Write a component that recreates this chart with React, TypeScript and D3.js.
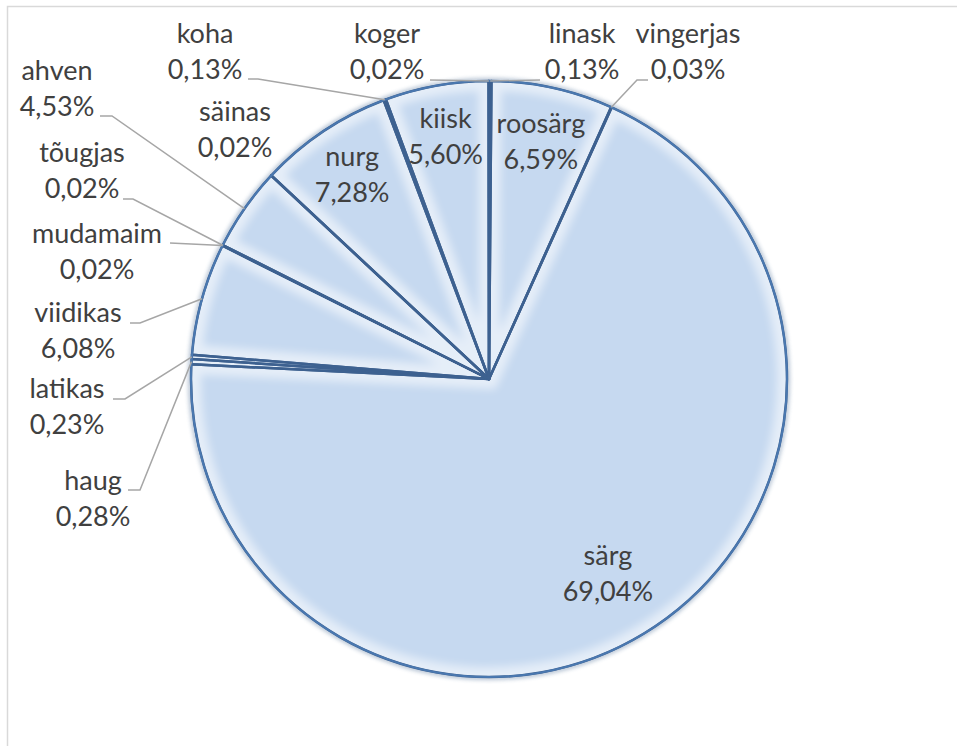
import React from "react";
import * as d3 from "d3";

// ---- data (clockwise from 12 o'clock) ----
const categories = [
  "linask", "roosärg", "vingerjas", "särg", "haug", "latikas", "viidikas",
  "mudamaim", "tõugjas", "ahven", "säinas", "nurg", "koha", "kiisk", "koger",
];
const values = [0.13, 6.59, 0.03, 69.04, 0.28, 0.23, 6.08, 0.02, 0.02, 4.53, 0.02, 7.28, 0.13, 5.6, 0.02];

// ---- layout ----
const W = 957;
const H = 746;
const CX = 489;
const CY = 379;
const R = 298;
const LINE = 36;
const FONT = 27;

type OutLayout = { tx: number; ty: number; leader: [number, number][] };
const outside: Record<string, OutLayout> = {
  linask: { tx: 582, ty: 43, leader: [[540, 80]] },
  koger: { tx: 387, ty: 43, leader: [[430, 80]] },
  koha: { tx: 205, ty: 43, leader: [[248, 79], [258, 79]] },
  ahven: { tx: 57, ty: 80, leader: [[100, 116], [112, 116]] },
  "säinas": { tx: 235, ty: 121, leader: [] },
  "tõugjas": { tx: 82, ty: 162, leader: [[123, 199], [133, 199]] },
  mudamaim: { tx: 97, ty: 243, leader: [[170, 243]] },
  viidikas: { tx: 78, ty: 322, leader: [[130, 323], [140, 323]] },
  latikas: { tx: 67, ty: 398, leader: [[113, 399], [125, 399]] },
  haug: { tx: 93, ty: 490, leader: [[128, 490], [140, 490]] },
  vingerjas: { tx: 688, ty: 43, leader: [[648, 80], [637, 80]] },
};
const insideRadius: Record<string, number> = {
  "roosärg": 243,
  "särg": 228,
  nurg: 246,
  kiisk: 246,
};

const fmt = (v: number) => d3.format(".2f")(v).replace(".", ",") + "%";

export default function App() {
  const pie = d3.pie<number>().sort(null).value((d) => d).startAngle(0).endAngle(2 * Math.PI)(values);
  const arc = d3.arc<d3.PieArcDatum<number>>().innerRadius(0).outerRadius(R);
  const pt = (a: number, r: number): [number, number] => [CX + r * Math.sin(a), CY - r * Math.cos(a)];

  return (
    <svg
      width={W}
      height={H}
      style={{ position: "absolute", left: 0, top: 0 }}
      fontFamily="Lato, 'Open Sans', sans-serif"
    >
      <defs>
        <filter id="soft" x="-20%" y="-20%" width="140%" height="140%">
          <feGaussianBlur stdDeviation="4" />
        </filter>
        <filter id="shadow" x="-20%" y="-20%" width="140%" height="140%">
          <feGaussianBlur stdDeviation="2" />
        </filter>
        {pie.map((p, i) => (
          <clipPath id={`clip${i}`} key={i}>
            <path d={arc(p) || ""} />
          </clipPath>
        ))}
      </defs>
      <rect x={0} y={0} width={W} height={H} fill="#ffffff" />
      <rect x={7.5} y={6.5} width={W + 20} height={H + 20} fill="none" stroke="#d9d9d9" strokeWidth={1.5} />

      <g transform={`translate(${CX},${CY})`}>
        <circle r={R + 1} fill="none" stroke="#385d8a" strokeWidth={3} opacity={0.5} filter="url(#shadow)" />
        {pie.map((p, i) => (
          <g key={categories[i]}>
            <path d={arc(p) || ""} fill="#c6d9f0" />
            <g clipPath={`url(#clip${i})`}>
              <path d={arc(p) || ""} fill="none" stroke="#ffffff" strokeWidth={20} opacity={0.55} filter="url(#soft)" />
            </g>
          </g>
        ))}
        {pie.map((p, i) => (
          <path
            key={"o" + i}
            d={arc(p) || ""}
            fill="none"
            stroke="#3d6190"
            strokeWidth={2.5}
            strokeLinejoin="round"
          />
        ))}
        <circle r={R} fill="none" stroke="#4a78b0" strokeWidth={2} />
      </g>

      {/* leader lines */}
      {pie.map((p, i) => {
        const lay = outside[categories[i]];
        if (!lay || lay.leader.length === 0) return null;
        const mid = (p.startAngle + p.endAngle) / 2;
        const end = pt(mid, R);
        const pts = [...lay.leader, end];
        return (
          <polyline
            key={"l" + i}
            points={pts.map((q) => q.join(",")).join(" ")}
            fill="none"
            stroke="#a6a6a6"
            strokeWidth={1.5}
          />
        );
      })}

      {/* labels */}
      {pie.map((p, i) => {
        const name = categories[i];
        const lay = outside[name];
        if (lay) {
          return (
            <text key={"t" + i} fill="#404040" fontSize={FONT} textAnchor="middle">
              <tspan x={lay.tx} y={lay.ty}>{name}</tspan>
              <tspan x={lay.tx} y={lay.ty + LINE}>{fmt(values[i])}</tspan>
            </text>
          );
        }
        const mid = (p.startAngle + p.endAngle) / 2;
        const [x, y] = pt(mid, insideRadius[name] ?? 240);
        return (
          <text key={"t" + i} fill="#404040" fontSize={FONT} textAnchor="middle">
            <tspan x={x} y={y - LINE / 2 + 9}>{name}</tspan>
            <tspan x={x} y={y + LINE / 2 + 9}>{fmt(values[i])}</tspan>
          </text>
        );
      })}
    </svg>
  );
}
